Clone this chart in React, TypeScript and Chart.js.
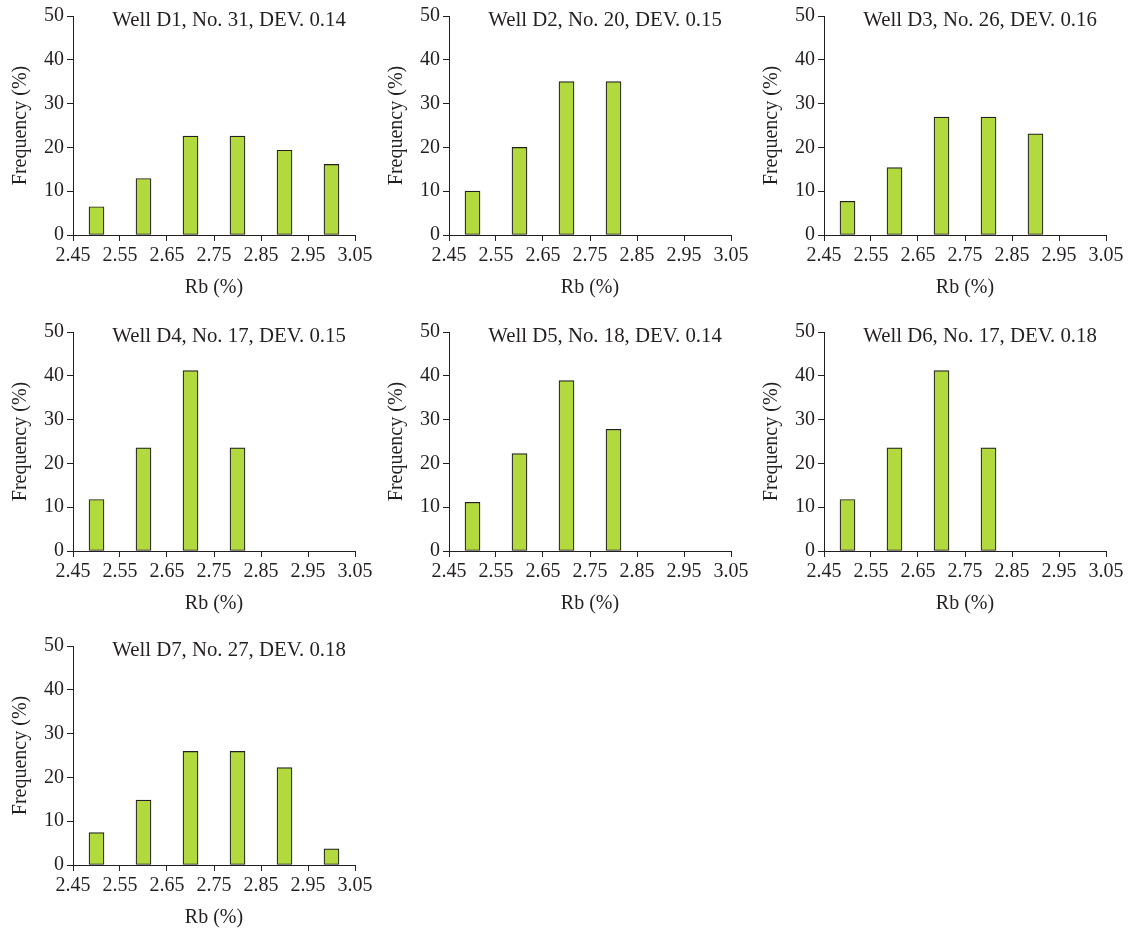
import { useEffect, useRef } from "react";
import { Chart, registerables } from "chart.js";

Chart.register(...registerables);

// Rb bin centres (%) and axis tick values
const rbBins = [2.5, 2.6, 2.7, 2.8, 2.9, 3.0];
const xTicks = [2.45, 2.55, 2.65, 2.75, 2.85, 2.95, 3.05];
const yTicks = [0, 10, 20, 30, 40, 50];

// Per-well header info
const wellNames = ["D1", "D2", "D3", "D4", "D5", "D6", "D7"];
const sampleCounts = [31, 20, 26, 17, 18, 17, 27];
const deviations = ["0.14", "0.15", "0.16", "0.15", "0.14", "0.18", "0.18"];

// Frequency (%) per Rb bin for each well
const freqD1 = [6.45, 12.9, 22.58, 22.58, 19.35, 16.13];
const freqD2 = [10, 20, 35, 35];
const freqD3 = [7.69, 15.38, 26.92, 26.92, 23.08];
const freqD4 = [11.76, 23.53, 41.18, 23.53];
const freqD5 = [11.11, 22.22, 38.89, 27.78];
const freqD6 = [11.76, 23.53, 41.18, 23.53];
const freqD7 = [7.41, 14.81, 25.93, 25.93, 22.22, 3.7];

const wellFrequencies = [freqD1, freqD2, freqD3, freqD4, freqD5, freqD6, freqD7];

const FONT = '"Liberation Serif", "Times New Roman", serif';
const INK = "#231f20";
const BAR_FILL = "#b2d93e";

// Grid placement of the seven panels
const COL_LEFT = [0, 376, 751];
const ROW_TOP = [1, 317, 631];
const PANEL_W = 376;
const PANEL_H = 310;

function Panel({ index }: { index: number }) {
  const ref = useRef<HTMLCanvasElement | null>(null);

  useEffect(() => {
    if (!ref.current) return;
    const values = wellFrequencies[index];
    const title = `Well ${wellNames[index]}, No. ${sampleCounts[index]}, DEV. ${deviations[index]}`;

    const titlePlugin = {
      id: "panelTitle",
      afterDraw(chart: any) {
        const { ctx, chartArea } = chart;
        ctx.save();
        ctx.font = `20.8px ${FONT}`;
        ctx.fillStyle = INK;
        ctx.textAlign = "center";
        ctx.textBaseline = "alphabetic";
        ctx.fillText(title, chartArea.left + 156, chartArea.top + 10);
        ctx.restore();
      },
    };

    const chart = new Chart(ref.current, {
      type: "bar",
      data: {
        datasets: [
          {
            data: values.map((v, i) => ({ x: rbBins[i], y: v })),
            backgroundColor: BAR_FILL,
            borderColor: INK,
            borderWidth: 1.2,
            barThickness: 15,
            borderSkipped: false,
          },
        ],
      },
      options: {
        responsive: false,
        animation: false,
        events: [],
        layout: { padding: { top: 12, right: 21, left: 0, bottom: 0 } },
        plugins: {
          legend: { display: false },
          tooltip: { enabled: false },
        },
        scales: {
          x: {
            type: "linear",
            min: 2.45,
            max: 3.05,
            offset: false,
            afterFit: (scale: any) => {
              scale.height = 76;
            },
            afterBuildTicks: (scale: any) => {
              scale.ticks = xTicks.map((v) => ({ value: v }));
            },
            ticks: {
              color: INK,
              font: { family: FONT, size: 20 },
              padding: 3,
              maxRotation: 0,
              autoSkip: false,
              callback: (v: any) => Number(v).toFixed(2),
            },
            grid: {
              display: true,
              offset: false,
              drawOnChartArea: false,
              drawTicks: true,
              tickLength: 6,
              color: INK,
            },
            border: { display: true, color: INK, width: 1 },
            title: {
              display: true,
              text: "Rb (%)",
              color: INK,
              font: { family: FONT, size: 20 },
              padding: { top: 0, bottom: 11 },
            },
          },
          y: {
            type: "linear",
            min: 0,
            max: 50,
            afterFit: (scale: any) => {
              scale.width = 73;
            },
            afterBuildTicks: (scale: any) => {
              scale.ticks = yTicks.map((v) => ({ value: v }));
            },
            ticks: {
              color: INK,
              font: { family: FONT, size: 20 },
              padding: 3,
              autoSkip: false,
            },
            grid: {
              display: true,
              drawOnChartArea: false,
              drawTicks: true,
              tickLength: 6,
              color: INK,
            },
            border: { display: true, color: INK, width: 1 },
            title: {
              display: true,
              text: "Frequency (%)",
              color: INK,
              font: { family: FONT, size: 20 },
              padding: { top: 9, bottom: 0 },
            },
          },
        },
      },
      plugins: [titlePlugin],
    } as any);

    return () => chart.destroy();
  }, [index]);

  const col = index % 3;
  const row = Math.floor(index / 3);
  return (
    <canvas
      ref={ref}
      width={PANEL_W}
      height={PANEL_H}
      style={{
        position: "absolute",
        left: COL_LEFT[col],
        top: ROW_TOP[row],
        width: PANEL_W,
        height: PANEL_H,
      }}
    />
  );
}

export default function App() {
  return (
    <div
      style={{
        position: "absolute",
        left: 0,
        top: 0,
        width: 1129,
        height: 930,
        overflow: "hidden",
        background: "#ffffff",
      }}
    >
      {wellNames.map((_, i) => (
        <Panel key={i} index={i} />
      ))}
    </div>
  );
}
